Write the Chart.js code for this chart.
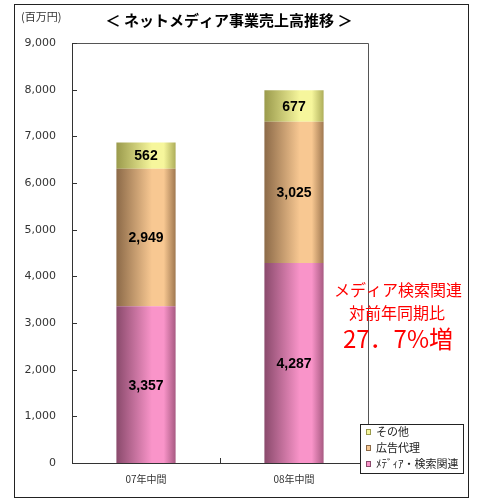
<!DOCTYPE html>
<html><head><meta charset="utf-8">
<script src="https://cdn.jsdelivr.net/npm/chart.js@4/dist/chart.umd.min.js"></script>
<style>html,body{margin:0;padding:0;background:#fff}#wrap{width:482px;height:503px}</style>
</head><body><div id="wrap"><canvas id="c" width="482" height="503"></canvas></div>
<script>
const categories = ['07年中間', '08年中間'];
const mediaSearch = [3357, 4287];
const adAgency = [2949, 3025];
const others = [562, 677];
const seriesNames = ['ﾒﾃﾞｨｱ・検索関連', '広告代理', 'その他'];
const yTicks = [0, 1000, 2000, 3000, 4000, 5000, 6000, 7000, 8000, 9000];
const titleText = '＜ ネットメディア事業売上高推移 ＞';
const unitText = '(百万円)';
const noteLines = ['メディア検索関連', '対前年同期比', '27．7%増'];

const shades = [
  ['#8a4a6c', '#f994c9', '#a85a82'],
  ['#8c6a48', '#f8c892', '#a07850'],
  ['#9a9a4c', '#f6f69c', '#aeae5a']
];

function fmt(v){ return v.toLocaleString('en-US'); }

const decor = {
  id: 'decor',
  beforeDraw(chart){
    const ctx = chart.ctx;
    ctx.save();
    ctx.fillStyle = '#fff';
    ctx.fillRect(0,0,chart.width,chart.height);
    ctx.strokeStyle = '#222';
    ctx.lineWidth = 1;
    ctx.strokeRect(14.5, 4.5, 454, 493);
    ctx.restore();
  },
  beforeDatasetsDraw(chart){
    const ctx = chart.ctx;
    chart.data.datasets.forEach((ds, di) => {
      const meta = chart.getDatasetMeta(di);
      meta.data.forEach(el => {
        const w = el.width;
        const g = ctx.createLinearGradient(el.x - w/2, 0, el.x + w/2, 0);
        const s = shades[di];
        g.addColorStop(0, s[0]);
        g.addColorStop(0.6, s[1]);
        g.addColorStop(0.8, s[1]);
        g.addColorStop(1, s[2]);
        el.options = Object.assign({}, el.options, { backgroundColor: g });
      });
    });
  },
  afterDatasetsDraw(chart){
    const ctx = chart.ctx;
    const a = chart.chartArea;
    const ys = chart.scales.y, xs = chart.scales.x;
    ctx.save();
    ctx.strokeStyle = '#555';
    ctx.lineWidth = 1;
    ctx.beginPath();
    ctx.moveTo(a.left, a.top + 0.5); ctx.lineTo(a.right + 0.5, a.top + 0.5); ctx.lineTo(a.right + 0.5, a.bottom);
    ctx.stroke();
    ctx.strokeStyle = '#333';
    ctx.beginPath();
    ctx.moveTo(a.left + 0.5, a.top); ctx.lineTo(a.left + 0.5, a.bottom + 0.5); ctx.lineTo(a.right, a.bottom + 0.5);
    ctx.stroke();
    ctx.beginPath();
    yTicks.forEach(t => { const y = Math.round(ys.getPixelForValue(t)) + 0.5; ctx.moveTo(a.left, y); ctx.lineTo(a.left + 5, y); });
    const mid = Math.round((xs.getPixelForValue(0) + xs.getPixelForValue(1)) / 2) + 0.5;
    ctx.moveTo(mid, a.bottom); ctx.lineTo(mid, a.bottom - 5);
    ctx.stroke();
    ctx.fillStyle = '#000';
    ctx.font = 'bold 14px "Liberation Sans", Arial, sans-serif';
    ctx.textAlign = 'center'; ctx.textBaseline = 'middle';
    chart.data.datasets.forEach((ds, di) => {
      chart.getDatasetMeta(di).data.forEach((el, i) => {
        ctx.fillText(fmt(ds.data[i]), el.x, (el.y + el.base) / 2 + 1);
      });
    });
    ctx.font = 'bold 15px "Noto Sans CJK JP", sans-serif';
    ctx.fillStyle = '#000';
    ctx.fillText(titleText, 229, 20);
    ctx.font = '11px "Noto Sans CJK JP", sans-serif';
    ctx.fillStyle = '#333';
    ctx.textAlign = 'left';
    ctx.fillText(unitText, 21, 17);
    ctx.fillStyle = '#ff0000';
    ctx.textAlign = 'center';
    ctx.font = '16px "Noto Sans CJK JP", sans-serif';
    ctx.fillText(noteLines[0], 398, 290);
    ctx.fillText(noteLines[1], 397, 313);
    ctx.font = '24px "Noto Sans CJK JP", sans-serif';
    ctx.fillText(noteLines[2], 398, 339);
    const lx = 360, ly = 424, lw = 103, lh = 49;
    ctx.fillStyle = '#fff';
    ctx.fillRect(lx, ly, lw, lh);
    ctx.strokeStyle = '#222';
    ctx.strokeRect(lx + 0.5, ly + 0.5, lw, lh);
    const order = [2, 1, 0];
    ctx.font = '11px "Noto Sans CJK JP", sans-serif';
    ctx.textBaseline = 'middle';
    ctx.textAlign = 'left';
    order.forEach((di, k) => {
      const y = 432 + k * 16;
      ctx.fillStyle = shades[di][1];
      ctx.fillRect(366, y - 3, 5, 6);
      ctx.strokeStyle = shades[di][0];
      ctx.strokeRect(366.5, y - 2.5, 4, 5);
      ctx.fillStyle = '#222';
      ctx.fillText(chart.data.datasets[di].label, 376, y);
    });
    ctx.restore();
  }
};

new Chart(document.getElementById('c'), {
  type: 'bar',
  data: {
    labels: categories,
    datasets: [
      { label: seriesNames[0], data: mediaSearch, backgroundColor: shades[0][1] },
      { label: seriesNames[1], data: adAgency, backgroundColor: shades[1][1] },
      { label: seriesNames[2], data: others, backgroundColor: shades[2][1] }
    ]
  },
  options: {
    responsive: false,
    animation: false,
    devicePixelRatio: 1,
    layout: { padding: { left: 0, right: 114, top: 43, bottom: 0 } },
    datasets: { bar: { categoryPercentage: 0.4, barPercentage: 1.0 } },
    plugins: { legend: { display: false }, title: { display: false }, tooltip: { enabled: false } },
    scales: {
      x: {
        stacked: true,
        grid: { display: false, drawTicks: false },
        border: { display: false },
        ticks: { color: '#333', font: { size: 10, family: '"Noto Sans CJK JP", sans-serif' }, padding: 10 },
        afterFit(s){ s.height = 40; }
      },
      y: {
        stacked: true,
        min: 0, max: 9000,
        afterBuildTicks(s){ s.ticks = yTicks.map(v => ({ value: v })); },
        grid: { display: false, drawTicks: false },
        border: { display: false },
        ticks: { color: '#333', font: { size: 11, family: '"DejaVu Sans", Verdana, sans-serif' }, padding: 16, callback: v => fmt(v) },
        afterFit(s){ s.width = 72; }
      }
    }
  },
  plugins: [decor]
});
</script></body></html>
